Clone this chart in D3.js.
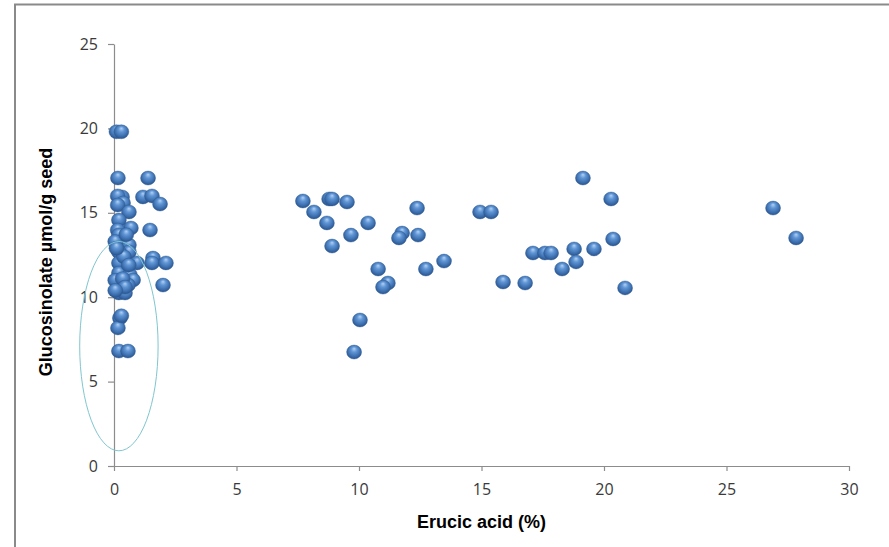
<!DOCTYPE html>
<html>
<head>
<meta charset="utf-8">
<script src="https://cdn.jsdelivr.net/npm/d3@7"></script>
<style>
  html, body { margin: 0; padding: 0; background: #fff; }
  svg { display: block; }
</style>
</head>
<body>
<svg id="chart" width="889" height="547"></svg>
<script>
// Data
const erucic = [
  0.10, 0.30, 0.16, 1.39, 1.18, 1.55, 1.88, 0.33, 0.15, 0.37, 0.15, 0.61, 0.69, 1.47,
  0.20, 0.15, 0.20, 0.61, 0.61, 0.20, 0.20, 0.20, 0.94, 1.59, 1.55, 2.12, 0.65, 0.78,
  0.57, 2.00, 0.20, 0.45, 0.24, 0.16, 0.20, 0.57, 0.05, 0.40, 0.05, 0.35, 0.50, 0.10,
  0.45, 0.60, 0.30, 0.05,
  7.71, 8.16, 8.69, 8.78, 8.90, 9.51, 8.90, 9.67, 10.37, 9.80, 10.04, 10.78, 11.18, 10.98,
  11.76, 11.63, 12.41, 12.37, 12.73, 13.47, 14.94,
  15.39, 15.88, 16.78, 17.10, 17.59, 17.84, 18.29, 18.78, 18.86, 19.59, 19.14, 20.29, 20.37,
  20.86, 26.90, 27.84
];
const glucosinolate = [
  19.8, 19.8, 17.06, 17.06, 15.94, 16.0, 15.52, 15.94, 16.0, 15.58, 15.46, 15.05, 14.10, 13.98,
  14.57, 13.98, 13.69, 13.09, 12.68, 12.68, 12.03, 11.43, 12.03, 12.32, 12.03, 12.03, 11.32, 11.02,
  10.72, 10.72, 10.25, 10.25, 8.77, 8.18, 6.81, 6.81, 13.3, 12.4, 11.0, 11.1, 13.7, 12.9,
  10.6, 11.9, 8.9, 10.4,
  15.70, 15.05, 14.40, 15.82, 15.82, 15.64, 13.03, 13.68, 14.40, 6.75, 8.65, 11.67, 10.84, 10.60,
  13.80, 13.51, 13.68, 15.28, 11.67, 12.14, 15.05,
  15.05, 10.90, 10.84, 12.62, 12.62, 12.62, 11.67, 12.86, 12.09, 12.86, 17.06, 15.82, 13.45,
  10.55, 15.28, 13.51
];
const xTicks = [0, 5, 10, 15, 20, 25, 30];
const yTicks = [0, 5, 10, 15, 20, 25];
const xTitle = "Erucic acid (%)";
const yTitle = "Glucosinolate µmol/g seed";
// highlighted region (data units): centre and half-extents
const ringCentre = [0.2, 7.1];
const ringHalf = [1.6, 6.2];

const points = erucic.map((e, i) => ({ x: e, y: glucosinolate[i] }));

const svg = d3.select("#chart");
const W = 889, H = 547;
const m = { left: 114, right: 40, top: 44, bottom: 81 };

// outer frame
svg.append("path")
  .attr("d", `M15,${H} L15,4.5 L${W},4.5`)
  .attr("fill", "none").attr("stroke", "#8a8a8a").attr("stroke-width", 2);

const x = d3.scaleLinear().domain([0, 30]).range([m.left, W - m.right]);
const y = d3.scaleLinear().domain([0, 25]).range([H - m.bottom, m.top]);

const font = "'Open Sans', 'Liberation Sans', Arial, sans-serif";
const titleFont = "'Liberation Sans', Arial, sans-serif";

// axes
const xAxis = svg.append("g").attr("transform", `translate(0,${y(0)})`)
  .call(d3.axisBottom(x).tickValues(xTicks).tickSize(5).tickSizeOuter(0).tickPadding(13));
const yAxis = svg.append("g").attr("transform", `translate(${x(0)},0)`)
  .call(d3.axisLeft(y).tickValues(yTicks).tickSize(6).tickSizeOuter(0).tickPadding(10));

[xAxis, yAxis].forEach(g => {
  g.select(".domain").attr("stroke", "#8c8c8c").attr("stroke-width", 1.2);
  g.selectAll(".tick line").attr("stroke", "#8c8c8c").attr("stroke-width", 1.2);
  g.selectAll(".tick text").attr("fill", "#3a3a3a")
    .style("font-family", font).style("font-size", "16px");
});

// gradient for 3D sphere markers
const defs = svg.append("defs");
const grad = defs.append("radialGradient").attr("id", "ball")
  .attr("cx", "50%").attr("cy", "45%").attr("r", "55%")
  .attr("fx", "50%").attr("fy", "25%");
grad.append("stop").attr("offset", "0%").attr("stop-color", "#b3d0f2");
grad.append("stop").attr("offset", "35%").attr("stop-color", "#6096d6");
grad.append("stop").attr("offset", "75%").attr("stop-color", "#3d6fae");
grad.append("stop").attr("offset", "100%").attr("stop-color", "#2a548f");

svg.append("g").selectAll("ellipse.pt").data(points).join("ellipse")
  .attr("class", "pt")
  .attr("cx", d => x(d.x)).attr("cy", d => y(d.y))
  .attr("rx", 7.5).attr("ry", 7)
  .attr("fill", "url(#ball)")
  .attr("stroke", "#2e5a92").attr("stroke-width", 0.4);

// annotation ellipse
svg.append("ellipse")
  .attr("cx", x(ringCentre[0])).attr("cy", y(ringCentre[1]))
  .attr("rx", x(ringHalf[0]) - x(0)).attr("ry", y(0) - y(ringHalf[1]))
  .attr("fill", "none").attr("stroke", "#7fc6cf").attr("stroke-width", 1);

// axis titles
svg.append("text")
  .attr("x", (x(0) + x(30)) / 2).attr("y", 528)
  .attr("text-anchor", "middle")
  .style("font-family", titleFont).style("font-size", "18px").style("font-weight", "bold")
  .attr("fill", "#000").text(xTitle);

svg.append("text")
  .attr("transform", `translate(52,262) rotate(-90)`)
  .attr("text-anchor", "middle")
  .style("font-family", titleFont).style("font-size", "18px").style("font-weight", "bold")
  .attr("fill", "#000").text(yTitle);
</script>
</body>
</html>
